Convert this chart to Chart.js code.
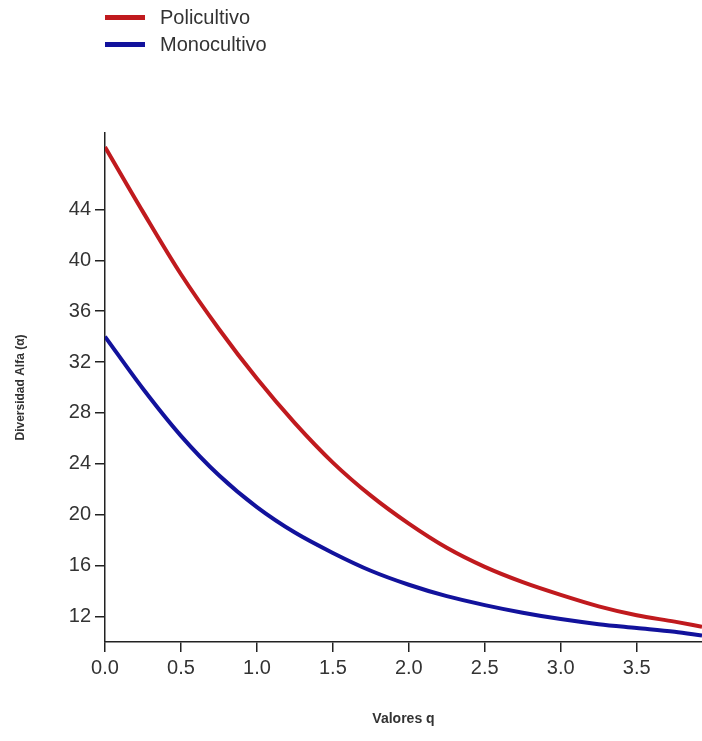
<!DOCTYPE html>
<html>
<head>
<meta charset="utf-8">
<title>Diversidad Alfa</title>
<script src="https://cdn.jsdelivr.net/npm/chart.js@4.4.1/dist/chart.umd.min.js"></script>
<style>
  html, body { margin: 0; padding: 0; background: #fff; }
  #wrap { position: relative; width: 702px; height: 741px; }
  #legend {
    position: absolute; left: 105px; top: 4px;
    font: 20px "Liberation Sans", Arial, sans-serif; color: #333;
  }
  #legend .item { display: flex; align-items: center; height: 27px; }
  #legend .swatch { display: inline-block; width: 40px; height: 5px; margin-right: 15px; }
</style>
</head>
<body>
<div id="wrap">
  <canvas id="chart" width="702" height="741"></canvas>
  <div id="legend"></div>
</div>
<script>
// values
const qValues = [0, 0.25, 0.5, 0.75, 1.0, 1.25, 1.5, 1.75, 2.0, 2.25, 2.5, 2.75, 3.0, 3.25, 3.5, 3.75, 3.93];
const policultivo = [48.9, 43.8, 38.9, 34.6, 30.7, 27.2, 24.1, 21.5, 19.3, 17.4, 15.9, 14.7, 13.7, 12.8, 12.1, 11.6, 11.2];
const monocultivo = [34.0, 29.9, 26.2, 23.1, 20.6, 18.6, 17.0, 15.6, 14.5, 13.6, 12.9, 12.3, 11.8, 11.4, 11.1, 10.8, 10.5];

const xTicks = [0, 0.5, 1.0, 1.5, 2.0, 2.5, 3.0, 3.5];
const yTicks = [12, 16, 20, 24, 28, 32, 36, 40, 44];

const seriesNames = ["Policultivo", "Monocultivo"];
const seriesColors = ["#c01a1e", "#12129c"];

const toPoints = (ys) => qValues.map((q, i) => ({ x: q, y: ys[i] }));

// simple html legend, built from the datasets
const htmlLegend = {
  id: "htmlLegend",
  afterUpdate(chart) {
    const box = document.getElementById("legend");
    box.innerHTML = "";
    chart.data.datasets.forEach((ds) => {
      const row = document.createElement("div");
      row.className = "item";
      const sw = document.createElement("span");
      sw.className = "swatch";
      sw.style.background = ds.borderColor;
      const label = document.createElement("span");
      label.textContent = ds.label;
      row.appendChild(sw);
      row.appendChild(label);
      box.appendChild(row);
    });
  },
};

const tickFont = { family: "'Liberation Sans', Arial, sans-serif", size: 20 };
const axisColor = "#222";

let chart = new Chart(document.getElementById("chart"), {
  type: "line",
  data: {
    datasets: [
      {
        label: seriesNames[0],
        data: toPoints(policultivo),
        borderColor: seriesColors[0],
        borderWidth: 4,
        pointRadius: 0,
        cubicInterpolationMode: "monotone",
      },
      {
        label: seriesNames[1],
        data: toPoints(monocultivo),
        borderColor: seriesColors[1],
        borderWidth: 4,
        pointRadius: 0,
        cubicInterpolationMode: "monotone",
      },
    ],
  },
  options: {
    responsive: false,
    animation: false,
    devicePixelRatio: 1,
    layout: { padding: { top: 133, right: 0, bottom: 0, left: 0 } },
    plugins: {
      legend: { display: false },
      tooltip: { enabled: false },
    },
    scales: {
      x: {
        type: "linear",
        min: 0,
        max: 3.93,
        afterBuildTicks: (scale) => { scale.ticks = xTicks.map((v) => ({ value: v })); },
        afterFit: (scale) => { scale.height = 99; },
        ticks: {
          font: tickFont,
          color: "#333",
          padding: 4,
          maxRotation: 0,
          callback: (v) => Number(v).toFixed(1),
        },
        grid: { drawOnChartArea: false, tickLength: 10, color: axisColor, lineWidth: 1.5 },
        border: { color: axisColor, width: 1.5 },
        title: {
          display: true,
          text: "Valores q",
          color: "#333",
          font: { family: "'Liberation Sans', Arial, sans-serif", size: 14, weight: "bold" },
          padding: { top: 0, bottom: 13 },
        },
      },
      y: {
        min: 10,
        max: 50,
        afterBuildTicks: (scale) => { scale.ticks = yTicks.map((v) => ({ value: v })); },
        afterFit: (scale) => { scale.width = 105; },
        ticks: { font: tickFont, color: "#333", padding: 4 },
        grid: { drawOnChartArea: false, tickLength: 10, color: axisColor, lineWidth: 1.5 },
        border: { color: axisColor, width: 1.5 },
        title: {
          display: true,
          text: "Diversidad Alfa (α)",
          color: "#333",
          font: { family: "'Liberation Sans', Arial, sans-serif", size: 12, weight: "bold" },
          padding: { top: 13, bottom: 0 },
        },
      },
    },
  },
  plugins: [htmlLegend],
});
</script>
</body>
</html>
